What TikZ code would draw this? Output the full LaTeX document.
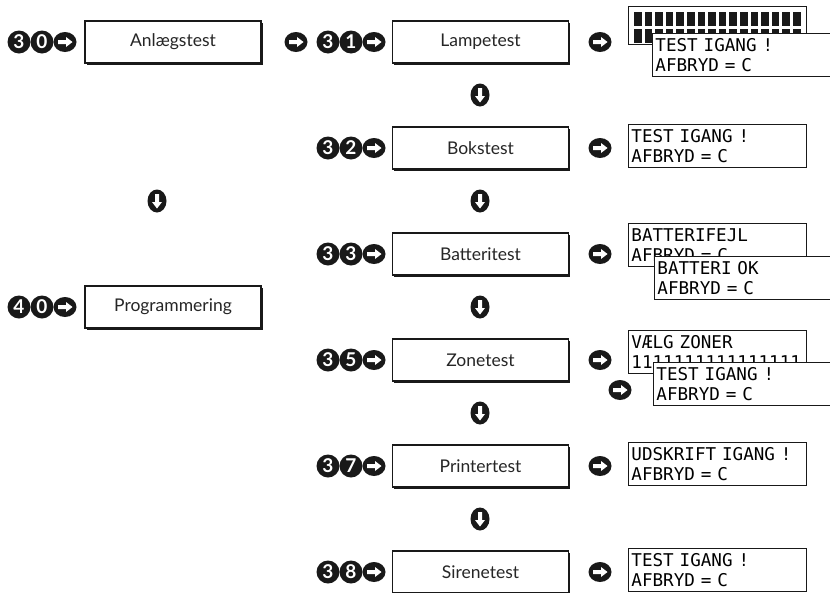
\documentclass[tikz,border=0pt]{standalone}
\usepackage{fontspec}
\setmainfont{Lato}
\newfontfamily\lcdfont{DejaVu Sans Mono}
\usepackage{tikz}
\usetikzlibrary{shapes.geometric,shadows}

\begin{document}
\begin{tikzpicture}[
  x=1pt,y=-1pt,
  menu/.style={draw=black!90,line width=1.1pt,fill=white,minimum width=176pt,
    minimum height=42pt,inner sep=0pt,text=black!85,
    font=\fontsize{17.5}{20}\selectfont,
    drop shadow={shadow xshift=1.6pt,shadow yshift=-1.6pt,fill=black!90,opacity=1}},
  digit/.style={circle,fill=black!90,minimum size=23pt,inner sep=0pt,text=white,
    font=\fontsize{19}{19}\selectfont\bfseries},
  goright/.style={ellipse,fill=black!90,minimum width=23pt,minimum height=20pt,
    inner sep=0pt,path picture={\fill[white] (path picture bounding box.center)
      ++(-7,-2) -- ++(8,0) -- ++(0,-3) -- ++(6.5,5) -- ++(-6.5,5) -- ++(0,-3)
      -- ++(-8,0) -- cycle;}},
  godown/.style={ellipse,fill=black!90,minimum width=19pt,minimum height=23pt,
    inner sep=0pt,path picture={\fill[white] (path picture bounding box.center)
      ++(-2,-7) -- ++(0,8) -- ++(-3,0) -- ++(5,6.5) -- ++(5,-6.5) -- ++(-3,0)
      -- ++(0,-8) -- cycle;}},
  lcd/.style={draw=black!90,line width=0.9pt,fill=white,anchor=north west,
    minimum height=43pt,inner xsep=3pt,inner ysep=0pt,align=left,
    text width=171.5pt,font=\lcdfont\fontsize{17.6}{20}\selectfont},
  block/.style={fill=black!90}
]
\path[fill=white,use as bounding box] (0,0) rectangle (830,592);

\node[digit] (d30a) at (19,42) {3};
\node[digit] (d30b) at (42,42) {0};
\node[goright] (g30) at (65,42) {};
\node[menu] (anl) at (173,42) {Anlægstest};
\node[goright] (gmid) at (296,42) {};

\node[godown] (dnleft) at (157,201) {};

\node[digit] (d40a) at (19,307) {4};
\node[digit] (d40b) at (42,307) {0};
\node[goright] (g40) at (65,307) {};
\node[menu] (prog) at (173,307) {Programmering};

\foreach \nm/\dd/\lab/\yy in {lam/1/Lampetest/42,bok/2/Bokstest/148,
    bat/3/Batteritest/254,zon/5/Zonetest/360,pri/7/Printertest/466,
    sir/8/Sirenetest/572}{
  \node[digit] (\nm a) at (328,\yy) {3};
  \node[digit] (\nm b) at (351,\yy) {\dd};
  \node[goright] (\nm c) at (374,\yy) {};
  \node[menu] (\nm) at (480.5,\yy) {\lab};
  \node[goright] (\nm d) at (600,\yy) {};
}
\foreach \yy [count=\k] in {95,201,307,413,519}
  \node[godown] (dn\k) at (480,\yy) {};

\node[lcd,minimum height=38pt] (lamback) at (628,6) {};
\foreach \i in {0,...,15}
  \foreach \r in {0,1}
    \fill[block] ([shift={(6+10.6*\i,6+17*\r)}]lamback.north west) rectangle ++(7.5,13.5);
\node[lcd] (lamfront) at (652,33) {TEST IGANG !\\AFBRYD = C};

\node[lcd] (boklcd) at (628,124) {TEST IGANG !\\AFBRYD = C};

\node[lcd] (batback) at (628,223) {BATTERIFEJL\\AFBRYD = C};
\node[lcd] (batfront) at (654,256) {BATTERI OK\\AFBRYD = C};

\node[lcd] (zonback) at (628,330) {VÆLG ZONER\\1111111111111111};
\node[lcd] (zonfront) at (653,362) {TEST IGANG !\\AFBRYD = C};
\node[goright] (zone) at (620,390) {};

\node[lcd] (prilcd) at (628,442) {UDSKRIFT IGANG !\\AFBRYD = C};

\node[lcd] (sirlcd) at (628,548) {TEST IGANG !\\AFBRYD = C};
\end{tikzpicture}
\end{document}
